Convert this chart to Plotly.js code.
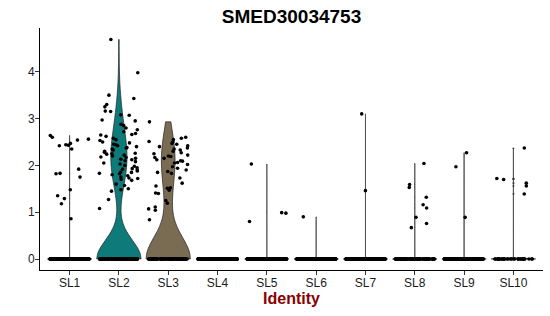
<!DOCTYPE html>
<html>
<head>
<meta charset="utf-8">
<script src="https://cdn.plot.ly/plotly-3.0.1.min.js"></script>
<style>
  html, body { margin: 0; padding: 0; background: #fff; }
  #chart { width: 550px; height: 316px; }
</style>
</head>
<body>
<div id="chart"></div>
<script>
// ---- data ----
const categories = ['SL1', 'SL2', 'SL3', 'SL4', 'SL5', 'SL6', 'SL7', 'SL8', 'SL9', 'SL10'];
// estimated number of cells with zero expression in each cluster
const zeroCounts = [220, 120, 105, 220, 220, 220, 220, 100, 200, 35];
// non-zero expression values per cluster
const SL1 = [2.64, 2.60, 2.56, 2.54, 2.47, 2.44, 2.43, 2.42, 2.35, 1.92, 1.83, 1.82, 1.75, 1.48, 1.35, 1.29, 1.18, 0.86];
const SL2 = [4.69, 3.98, 3.50, 3.43, 3.30, 3.25, 3.16, 3.15, 3.08, 3.07, 2.97, 2.95, 2.88, 2.85, 2.80,
             2.76, 2.72, 2.68, 2.66, 2.65, 2.62, 2.58, 2.55, 2.53, 2.50, 2.48, 2.45, 2.44, 2.42, 2.40,
             2.38, 2.37, 2.35, 2.33, 2.30, 2.28, 2.26, 2.25, 2.24, 2.22, 2.20, 2.18, 2.17, 2.15, 2.13,
             2.12, 2.10, 2.08, 2.05, 2.03, 2.00, 1.98, 1.95, 1.93, 1.92, 1.90, 1.88, 1.86, 1.85, 1.83,
             1.82, 1.80, 1.78, 1.75, 1.73, 1.72, 1.70, 1.68, 1.60, 1.57, 1.50, 1.48, 1.45, 1.27, 1.08];
const SL3 = [2.93, 2.60, 2.58, 2.55, 2.51, 2.50, 2.47, 2.45, 2.42, 2.40, 2.37, 2.35, 2.33, 2.30, 2.27,
             2.25, 2.22, 2.20, 2.19, 2.17, 2.15, 2.12, 2.10, 2.09, 2.06, 2.05, 2.02, 1.97, 1.94, 1.90,
             1.87, 1.85, 1.83, 1.73, 1.62, 1.56, 1.52, 1.51, 1.47, 1.41, 1.40, 1.25, 1.19, 1.11, 1.07,
             1.04, 0.84];
const SL4 = [];
const SL5 = [2.03, 0.99, 0.98, 0.80];
const SL6 = [0.90];
const SL7 = [3.10, 1.46];
const SL8 = [2.04, 1.59, 1.53, 1.32, 1.16, 1.09, 0.89, 0.76, 0.67];
const SL9 = [2.27, 1.97, 0.89];
const SL10 = [2.37, 1.72, 1.70, 1.62, 1.56, 1.39];
const nonZero = [SL1, SL2, SL3, SL4, SL5, SL6, SL7, SL8, SL9, SL10];

// ---- styles ----
const fillColors = ['#333', '#0E7A79', '#7A6C53', '#333', '#333', '#333', '#333', '#333', '#333', '#333'];
const bandwidths = [0.012, 0.4, 0.47, 0.012, 0.012, 0.012, 0.012, 0.012, 0.012, 0.012];
const JITTER_HALF_WIDTH = 0.4;   // like geom_jitter(width = 0.4)

const traces = [];
categories.forEach((cat, i) => {
  if (nonZero[i].length === 0) return;
  const vals = nonZero[i].concat(new Array(zeroCounts[i]).fill(0));
  traces.push({
    type: 'violin',
    x: vals.map(() => cat),
    y: vals,
    points: false,
    spanmode: 'hard',
    scalemode: 'width',
    width: 0.9,
    bandwidth: bandwidths[i],
    fillcolor: fillColors[i],
    line: { color: '#222', width: 0.7 },
    box: { visible: false },
    meanline: { visible: false },
    hoverinfo: 'skip',
    showlegend: false
  });
});

// jittered points for zero cells: Plotly's own box-point jitter (uniform for equal values)
const zX = [], zY = [];
categories.forEach((cat, i) => { for (let k = 0; k < zeroCounts[i]; k++) { zX.push(cat); zY.push(0); } });
traces.push({
  type: 'box',
  x: zX, y: zY,
  boxpoints: 'all',
  jitter: 1,
  pointpos: 0,
  width: 2 * JITTER_HALF_WIDTH,
  fillcolor: 'rgba(0,0,0,0)',
  line: { width: 0, color: 'rgba(0,0,0,0)' },
  whiskerwidth: 0,
  marker: { color: '#000', size: 3.6, line: { width: 0 } },
  hoverinfo: 'skip',
  showlegend: false
});

// jittered points for non-zero cells: deterministic horizontal jitter (seeded
// mulberry32 generator), placed through an overlaid linear axis aligned with the
// category axis
function mulberry32(a) {
  return function () {
    a |= 0; a = (a + 0x6D2B79F5) | 0;
    let t = Math.imul(a ^ (a >>> 15), 1 | a);
    t = (t + Math.imul(t ^ (t >>> 7), 61 | t)) ^ t;
    return ((t ^ (t >>> 14)) >>> 0) / 4294967296;
  };
}
const rng = mulberry32(7);
const nzX = [], nzY = [];
categories.forEach((cat, i) => nonZero[i].forEach(v => {
  nzX.push(i + (rng() - 0.5) * 2 * JITTER_HALF_WIDTH);
  nzY.push(v);
}));
traces.push({
  type: 'scatter',
  mode: 'markers',
  x: nzX, y: nzY,
  xaxis: 'x2',
  marker: { color: '#000', size: 3.6, line: { width: 0 } },
  hoverinfo: 'skip',
  showlegend: false
});

const axisRange = [-0.6, 9.6];
const layout = {
  width: 550,
  height: 316,
  margin: { l: 40, r: 7, t: 28, b: 46 },
  paper_bgcolor: '#fff',
  plot_bgcolor: '#fff',
  font: { family: 'Liberation Sans, Arial, sans-serif', size: 12, color: '#000' },
  title: {
    text: 'SMED30034753',
    font: { family: 'Liberation Sans, Arial, sans-serif', size: 19, weight: 'bold', color: '#000' },
    x: 0.5, xref: 'paper', xanchor: 'center',
    y: 0.948, yref: 'container', yanchor: 'middle'
  },
  violinmode: 'overlay',
  boxmode: 'overlay',
  xaxis: {
    type: 'category',
    categoryorder: 'array',
    categoryarray: categories,
    range: axisRange,
    showline: true, linecolor: '#000', linewidth: 1,
    ticks: 'outside', ticklen: 4, tickcolor: '#333', tickwidth: 1,
    ticklabelstandoff: -2,
    showgrid: false, zeroline: false,
    tickfont: { size: 12, color: '#1a1a1a' },
    title: {
      text: 'Identity',
      font: { family: 'Liberation Sans, Arial, sans-serif', size: 16, weight: 'bold', color: '#8B0000' },
      standoff: 2
    },
    automargin: false
  },
  xaxis2: {
    type: 'linear',
    overlaying: 'x',
    range: axisRange,
    visible: false,
    showgrid: false, zeroline: false
  },
  yaxis: {
    range: [-0.235, 4.935],
    dtick: 1, tick0: 0,
    showline: true, linecolor: '#000', linewidth: 1,
    ticks: 'outside', ticklen: 4, tickcolor: '#333', tickwidth: 1,
    ticklabelstandoff: -2,
    showgrid: false, zeroline: false,
    tickfont: { size: 12, color: '#1a1a1a' },
    automargin: false
  }
};

Plotly.newPlot('chart', traces, layout, { staticPlot: true, displayModeBar: false });
</script>
</body>
</html>
